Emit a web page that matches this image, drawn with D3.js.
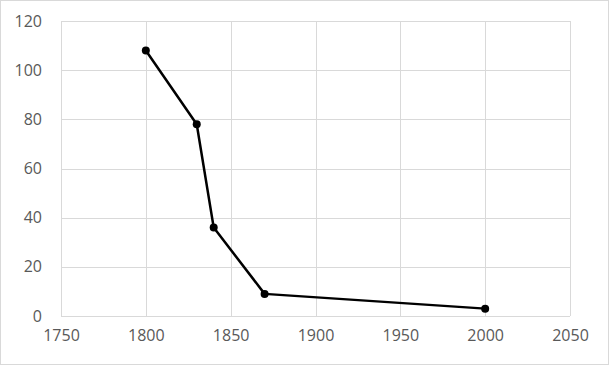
<!DOCTYPE html>
<html>
<head>
<meta charset="utf-8">
<script src="https://cdn.jsdelivr.net/npm/d3@7"></script>
<style>
  body { margin: 0; background: #fff; }
  svg { display: block; }
  .tick text { font-family: "Open Sans", "Noto Sans", sans-serif; font-size: 16px; fill: #595959; }
</style>
</head>
<body>
<svg></svg>
<script>
// data
var years = [1800, 1830, 1840, 1870, 2000];
var values = [108, 78, 36, 9, 3];
var xTicks = [1750, 1800, 1850, 1900, 1950, 2000, 2050];
var yTicks = [0, 20, 40, 60, 80, 100, 120];

var screen = {width:610, height:366};
var margins = {left:61, right:40, top:21, bottom:50};
var graph = {
    width: screen.width - margins.left - margins.right,
    height: screen.height - margins.top - margins.bottom
};

var svg = d3.select("svg")
    .attr("width", screen.width)
    .attr("height", screen.height);

// outer chart border
svg.append("rect")
    .attr("x", 0.5).attr("y", 0.5)
    .attr("width", screen.width - 2)
    .attr("height", screen.height - 2)
    .attr("fill", "white")
    .attr("stroke", "#d9d9d9");

var xScale = d3.scaleLinear().domain([1750, 2050]).range([0, graph.width]);
var yScale = d3.scaleLinear().domain([0, 120]).range([graph.height, 0]);

var target = svg.append("g")
    .attr("transform", "translate(" + margins.left + "," + margins.top + ")");

// gridlines
target.append("g")
    .selectAll("line")
    .data(xTicks)
    .enter()
    .append("line")
    .attr("x1", function(d){ return Math.round(xScale(d)) + 0.5; })
    .attr("x2", function(d){ return Math.round(xScale(d)) + 0.5; })
    .attr("y1", 0)
    .attr("y2", graph.height)
    .attr("stroke", "#d9d9d9");

target.append("g")
    .selectAll("line")
    .data(yTicks)
    .enter()
    .append("line")
    .attr("x1", 0)
    .attr("x2", graph.width)
    .attr("y1", function(d){ return Math.round(yScale(d)) + 0.5; })
    .attr("y2", function(d){ return Math.round(yScale(d)) + 0.5; })
    .attr("stroke", "#d9d9d9");

// axes (labels only)
var xAxis = d3.axisBottom(xScale).tickValues(xTicks).tickFormat(d3.format("d")).tickSize(0).tickPadding(14);
var yAxis = d3.axisLeft(yScale).tickValues(yTicks).tickSize(0).tickPadding(19);

target.append("g")
    .attr("transform", "translate(0," + graph.height + ")")
    .call(xAxis)
    .call(function(g){ g.select(".domain").remove(); });

target.append("g")
    .call(yAxis)
    .call(function(g){ g.select(".domain").remove(); });

var points = years.map(function(y, i){ return {year:y, value:values[i]}; });

var line = d3.line()
    .x(function(d){ return xScale(d.year); })
    .y(function(d){ return yScale(d.value); });

target.append("path")
    .datum(points)
    .attr("d", line)
    .attr("fill", "none")
    .attr("stroke", "black")
    .attr("stroke-width", 2.5)
    .attr("stroke-linejoin", "round");

target.selectAll("circle")
    .data(points)
    .enter()
    .append("circle")
    .attr("cx", function(d){ return xScale(d.year); })
    .attr("cy", function(d){ return yScale(d.value); })
    .attr("r", 4)
    .attr("fill", "black");
</script>
</body>
</html>
